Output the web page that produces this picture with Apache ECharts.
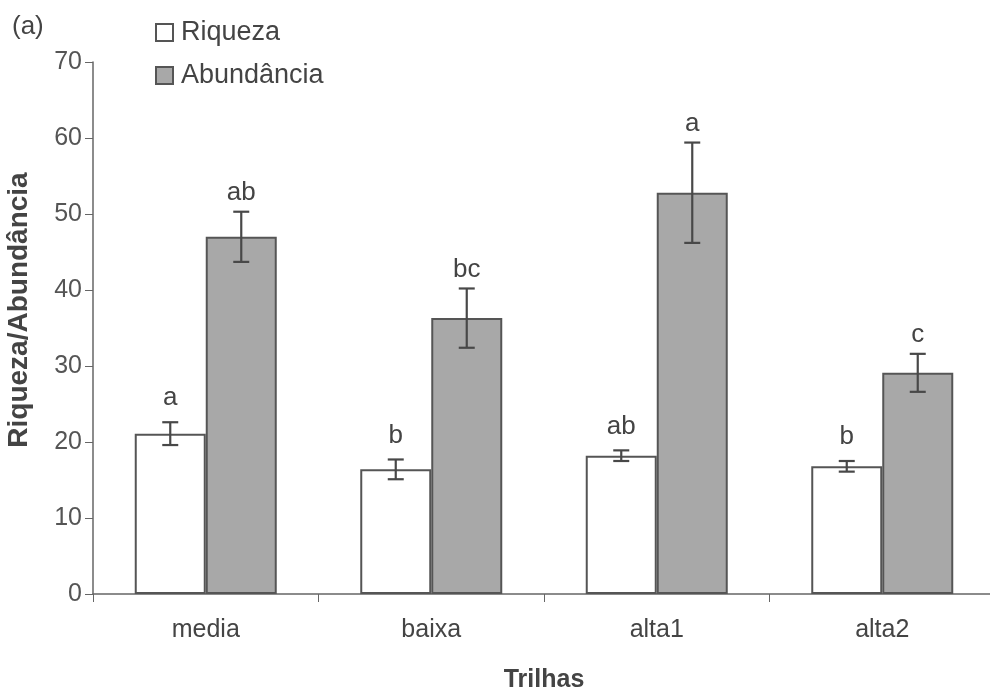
<!DOCTYPE html>
<html><head><meta charset="utf-8">
<script src="https://cdn.jsdelivr.net/npm/echarts@6/dist/echarts.min.js"></script>
<style>html,body{margin:0;padding:0;background:#fff}#c{width:990px;height:697px}</style>
</head><body><div id="c"></div>
<script>
const categories = ['media', 'baixa', 'alta1', 'alta2'];
const riqueza = [21.1, 16.4, 18.2, 16.8];
const riquezaErr = [1.5, 1.3, 0.7, 0.7];
const abundancia = [47.0, 36.3, 52.8, 29.1];
const abundanciaErr = [3.3, 3.9, 6.6, 2.5];
const riquezaLetters = ['a', 'b', 'ab', 'b'];
const abundanciaLetters = ['ab', 'bc', 'a', 'c'];
const yTicks = { min: 0, max: 70, interval: 10 };

const sans = "'Liberation Sans',Arial,Helvetica,sans-serif";
const BW = 71;

const chart = echarts.init(document.getElementById('c'), null, { renderer: 'canvas' });

function errSeries(name, vals, errs, letters, offset, letterGap) {
  return {
    type: 'custom', name: name + '_err', z: 5,
    data: vals.map((v, i) => [i, v, errs[i]]),
    renderItem: function (params, api) {
      const i = api.value(0), v = api.value(1), e = api.value(2);
      const c = api.coord([i, v]);
      const top = api.coord([i, v + e]);
      const bot = api.coord([i, v - e]);
      const x = c[0] + offset;
      const capW = 8;
      const st = { stroke: '#484848', lineWidth: 2.2 };
      return {
        type: 'group', children: [
          { type: 'line', shape: { x1: x, y1: top[1], x2: x, y2: bot[1] }, style: st },
          { type: 'line', shape: { x1: x - capW, y1: top[1], x2: x + capW, y2: top[1] }, style: st },
          { type: 'line', shape: { x1: x - capW, y1: bot[1], x2: x + capW, y2: bot[1] }, style: st },
          { type: 'text', x: x, y: top[1] - letterGap, style: { text: letters[params.dataIndex], fill: '#444', font: '26px ' + sans, align: 'center', verticalAlign: 'bottom' } }
        ]
      };
    }
  };
}

const option = {
  animation: false,
  backgroundColor: '#fff',
  grid: { left: 93, right: -5, top: 62, bottom: 103, containLabel: false, outerBoundsMode: 'none' },
  legend: {
    orient: 'vertical', left: 155, top: 19, padding: 0,
    itemWidth: 17, itemHeight: 17, itemGap: 16,
    icon: 'rect',
    textStyle: { fontSize: 27, color: '#444', fontFamily: sans, padding: [0, 0, 0, 3] },
    data: [
      { name: 'Riqueza', itemStyle: { color: '#fff', borderColor: '#555', borderWidth: 2 } },
      { name: 'Abundância', itemStyle: { color: '#a8a8a8', borderColor: '#555', borderWidth: 2 } }
    ]
  },
  graphic: [
    { type: 'text', left: 12, top: 14, style: { text: '(a)', fill: '#444', font: '26px ' + sans } }
  ],
  xAxis: {
    type: 'category', data: categories,
    axisLine: { lineStyle: { color: '#666', width: 1.5 } },
    axisTick: { show: true, length: 8, lineStyle: { color: '#666' } },
    axisLabel: { fontSize: 25, color: '#444', margin: 24, fontFamily: sans },
    name: 'Trilhas', nameLocation: 'middle', nameGap: 74,
    nameTextStyle: { fontSize: 25, fontWeight: 'bold', color: '#444', fontFamily: sans }
  },
  yAxis: {
    type: 'value', min: yTicks.min, max: yTicks.max, interval: yTicks.interval,
    splitLine: { show: false },
    axisLine: { show: true, lineStyle: { color: '#666', width: 1.5 } },
    axisTick: { show: true, length: 8, lineStyle: { color: '#666' } },
    axisLabel: { fontSize: 25, color: '#555', margin: 11, fontFamily: sans },
    name: 'Riqueza/Abundância', nameLocation: 'middle', nameGap: 60,
    nameTextStyle: { fontSize: 28, fontWeight: 'bold', color: '#444', fontFamily: sans, padding: [0, 0, 0, 36] }
  },
  series: [
    { name: 'Riqueza', type: 'bar', data: riqueza, barWidth: BW, barGap: '0%',
      itemStyle: { color: '#fff', borderColor: '#555', borderWidth: 2 } },
    { name: 'Abundância', type: 'bar', data: abundancia, barWidth: BW, barGap: '0%',
      itemStyle: { color: '#a8a8a8', borderColor: '#555', borderWidth: 2 } },
    errSeries('Riqueza', riqueza, riquezaErr, riquezaLetters, -BW / 2, 11),
    errSeries('Abundância', abundancia, abundanciaErr, abundanciaLetters, BW / 2, 6)
  ]
};
chart.setOption(option);
</script></body></html>
